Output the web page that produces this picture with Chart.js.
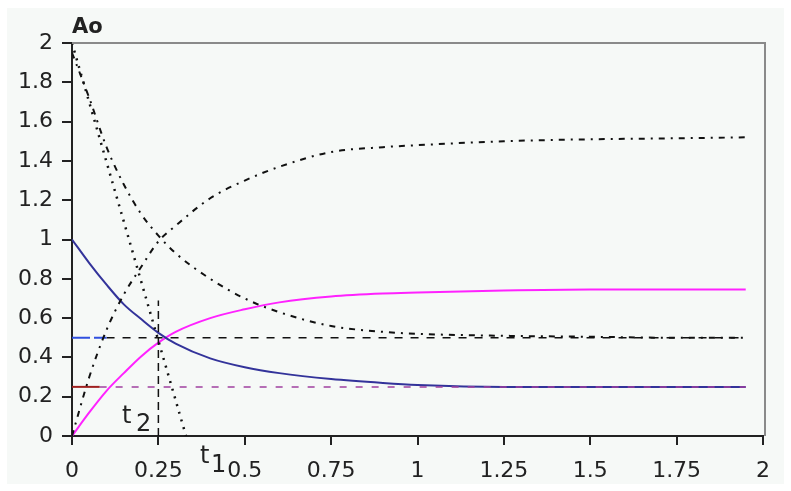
<!DOCTYPE html>
<html>
<head>
<meta charset="utf-8">
<script src="https://cdn.jsdelivr.net/npm/chart.js@4.4.1/dist/chart.umd.min.js"></script>
<style>
  html, body { margin: 0; padding: 0; background: #ffffff; }
  #wrap { width: 791px; height: 491px; }
</style>
</head>
<body>
<div id="wrap"><canvas id="grafico" width="791" height="491"></canvas></div>
<script>
// valores (tempo no eixo x)
const tempos = [0, 0.05, 0.1, 0.15, 0.2, 0.25, 0.3, 0.4, 0.5, 0.6, 0.75, 0.9, 1.0, 1.25, 1.5, 1.75, 1.95];
const curvaAzul = [1.0, 0.88, 0.77, 0.67, 0.595, 0.525, 0.47, 0.395, 0.35, 0.32, 0.29, 0.27, 0.26, 0.25, 0.25, 0.25, 0.25];
const curvaMagenta = [0, 0.12, 0.23, 0.32, 0.405, 0.475, 0.53, 0.60, 0.645, 0.68, 0.71, 0.725, 0.73, 0.74, 0.745, 0.745, 0.745];
const curvaDescendo = [1.95, 1.72, 1.47, 1.28, 1.13, 1.02, 0.93, 0.80, 0.70, 0.63, 0.56, 0.53, 0.52, 0.51, 0.505, 0.50, 0.50];
const curvaSubindo = [0, 0.30, 0.54, 0.72, 0.86, 0.99, 1.07, 1.21, 1.30, 1.37, 1.445, 1.47, 1.48, 1.50, 1.51, 1.515, 1.52];

// retas auxiliares
const tangenteT = [0, 0.33];
const tangenteY = [2, 0];
const nivelMeio = 0.5;
const nivelQuarto = 0.25;
const inicioNivel = [0, 0.1];
const fimNivel = 1.95;
const tempoT2 = 0.25;
const alturaT2 = 0.69;

// ticks
const ticksX = [0, 0.25, 0.5, 0.75, 1, 1.25, 1.5, 1.75, 2];
const ticksY = [0, 0.2, 0.4, 0.6, 0.8, 1, 1.2, 1.4, 1.6, 1.8, 2];

const pares = (xs, ys) => xs.map((x, i) => ({ x: x, y: ys[i] }));

const fonte = 'DejaVu Sans';

// fundo, moldura e textos soltos
const extras = {
    id: 'extras',
    beforeDraw(chart) {
        const c = chart.ctx;
        c.save();
        c.fillStyle = '#ffffff';
        c.fillRect(0, 0, chart.width, chart.height);
        c.fillStyle = '#f6f9f7';
        c.fillRect(7, 8, chart.width - 14, chart.height - 15);
        c.restore();
    },
    afterDraw(chart) {
        const c = chart.ctx;
        const a = chart.chartArea;
        c.save();
        c.strokeStyle = '#8a8a8a';
        c.lineWidth = 2;
        c.beginPath();
        c.moveTo(a.left, a.top);
        c.lineTo(a.right + 2, a.top);
        c.lineTo(a.right + 2, a.bottom);
        c.stroke();

        c.fillStyle = '#222';
        c.textBaseline = 'alphabetic';
        c.font = 'bold 21px "' + fonte + '"';
        c.fillText('Ao', a.left, a.top - 10);

        c.font = '24px "' + fonte + '"';
        c.fillText('t', 122, 423);
        c.fillText('2', 136, 431);
        c.fillText('t', 200, 463);
        c.fillText('1', 211, 472);
        c.restore();
    }
};

document.addEventListener('DOMContentLoaded', () => {
    const ctx = document.getElementById('grafico');

    new Chart(ctx, {
        type: 'line',
        data: {
            datasets: [
                {
                    label: 'tangente',
                    data: pares(tangenteT, tangenteY),
                    borderColor: '#111',
                    borderWidth: 2.5,
                    borderDash: [2, 6],
                    pointRadius: 0
                },
                {
                    label: 'descendo',
                    data: pares(tempos, curvaDescendo),
                    borderColor: '#111',
                    borderWidth: 2,
                    borderDash: [6, 6, 2, 6],
                    cubicInterpolationMode: 'monotone',
                    pointRadius: 0
                },
                {
                    label: 'subindo',
                    data: pares(tempos, curvaSubindo),
                    borderColor: '#111',
                    borderWidth: 2,
                    borderDash: [6, 6, 2, 6],
                    cubicInterpolationMode: 'monotone',
                    pointRadius: 0
                },
                {
                    label: 'meio azul',
                    data: pares(inicioNivel, [nivelMeio, nivelMeio]),
                    borderColor: '#3050e0',
                    borderWidth: 2,
                    borderDash: [18, 4],
                    pointRadius: 0
                },
                {
                    label: 'meio',
                    data: pares([inicioNivel[1], fimNivel], [nivelMeio, nivelMeio]),
                    borderColor: '#111',
                    borderWidth: 1.5,
                    borderDash: [8, 8],
                    pointRadius: 0
                },
                {
                    label: 'quarto vermelho',
                    data: pares([0, 0.08], [nivelQuarto, nivelQuarto]),
                    borderColor: '#a02020',
                    borderWidth: 2,
                    pointRadius: 0
                },
                {
                    label: 'quarto',
                    data: pares([0.08, fimNivel], [nivelQuarto, nivelQuarto]),
                    borderColor: '#a040a0',
                    borderWidth: 1.5,
                    borderDash: [7, 9],
                    pointRadius: 0
                },
                {
                    label: 't2',
                    data: pares([tempoT2, tempoT2], [0, alturaT2]),
                    borderColor: '#111',
                    borderWidth: 1.5,
                    borderDash: [8, 5],
                    pointRadius: 0
                },
                {
                    label: 'A',
                    data: pares(tempos, curvaAzul),
                    borderColor: '#33339a',
                    borderWidth: 2,
                    cubicInterpolationMode: 'monotone',
                    pointRadius: 0
                },
                {
                    label: 'B',
                    data: pares(tempos, curvaMagenta),
                    borderColor: '#ff22ff',
                    borderWidth: 2,
                    cubicInterpolationMode: 'monotone',
                    pointRadius: 0
                }
            ]
        },
        options: {
            responsive: false,
            animation: false,
            layout: { padding: { top: 43, right: 28, left: 0, bottom: 0 } },
            plugins: {
                legend: { display: false },
                tooltip: { enabled: false }
            },
            scales: {
                x: {
                    type: 'linear',
                    min: 0,
                    max: 2,
                    afterFit: (s) => { s.height = 55; },
                    afterBuildTicks: (s) => { s.ticks = ticksX.map(v => ({ value: v })); },
                    border: { color: '#222', width: 2 },
                    grid: { drawOnChartArea: false, tickLength: 9, color: '#222', lineWidth: 2 },
                    ticks: {
                        padding: 13,
                        color: '#222',
                        maxRotation: 0,
                        font: { family: fonte, size: 22 },
                        callback: (v) => String(v)
                    }
                },
                y: {
                    min: 0,
                    max: 2,
                    afterFit: (s) => { s.width = 72; },
                    afterBuildTicks: (s) => { s.ticks = ticksY.map(v => ({ value: v })); },
                    border: { color: '#222', width: 2 },
                    grid: { drawOnChartArea: false, tickLength: 10, color: '#222', lineWidth: 2 },
                    ticks: {
                        padding: 9,
                        color: '#222',
                        font: { family: fonte, size: 22 },
                        callback: (v) => String(Math.round(v * 10) / 10)
                    }
                }
            }
        },
        plugins: [extras]
    });
});
</script>
</body>
</html>
